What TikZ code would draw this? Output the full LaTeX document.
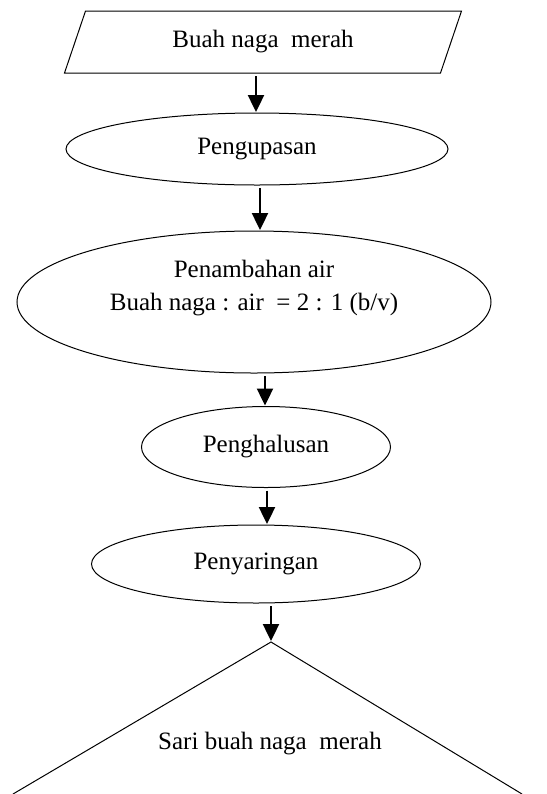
\documentclass[tikz,border=0pt]{standalone}
\usepackage{fontspec}
\setmainfont{Liberation Serif}
\usepackage{tikz}
\usetikzlibrary{
  arrows.meta, % for the arrow heads
  shapes.geometric,
}

\tikzset{
  inbox/.style = {minimum width=188pt, minimum height=31pt, inner sep=0pt, outer sep=0pt},
  process/.style = {draw, line width=0.5pt, ellipse, inner sep=0pt, outer sep=0pt, align=center},
  flow/.style = {line width=1.2pt, -{Triangle[length=8.5pt, width=8pt]},
    shorten <=1.5pt, shorten >=0.5pt},
}

\begin{document}
\begin{tikzpicture}[x=0.5pt, y=-0.5pt, font=\fontsize{12.5}{16.5}\selectfont]
              \useasboundingbox (0,0) rectangle (547,794);
              \node [inbox] (fruit) at (263,42) {Buah naga~ merah};
              \draw [line width=0.5pt] ([xshift=-5.25pt]fruit.south west) -- ([xshift=5.25pt]fruit.north west)
                -- ([xshift=5.25pt]fruit.north east) -- ([xshift=-5.25pt]fruit.south east) -- cycle;
              \node [process, minimum width=191pt, minimum height=36pt] (peel) at (257,149) {Pengupasan};
              \node [process, minimum width=237pt, minimum height=71pt] (water) at (254,302) {
                  Penambahan air\\Buah naga : air\ \ = 2 : 1 (b/v)\\ \mbox{}
                };
              \node [process, minimum width=124.5pt, minimum height=40.5pt] (smooth) at (266,447) {Penghalusan};
              \node [process, minimum width=164.5pt, minimum height=39pt] (filter) at (256,564) {Penyaringan};
              \coordinate (apex) at (271,642);
              \node (juice) at (270,744) {Sari buah naga~ merah};
              \draw [line width=0.5pt] (13,794) -- (apex) -- (522,794);
              \draw [flow] ([xshift=-3.5pt]fruit.south) -- ([xshift=-3.5pt]fruit.south |- peel.north);
              \draw [flow] ([xshift=1.5pt]peel.south) -- ([xshift=1.5pt]peel.south |- water.north);
              \draw [flow] ([xshift=5.5pt]water.south) -- ([xshift=5.5pt]water.south |- smooth.north);
              \draw [flow] ([xshift=0.5pt]smooth.south) -- ([xshift=0.5pt]smooth.south |- filter.north);
              \draw [flow] ([xshift=7.5pt]filter.south) -- (apex);
            \end{tikzpicture}
\end{document}
